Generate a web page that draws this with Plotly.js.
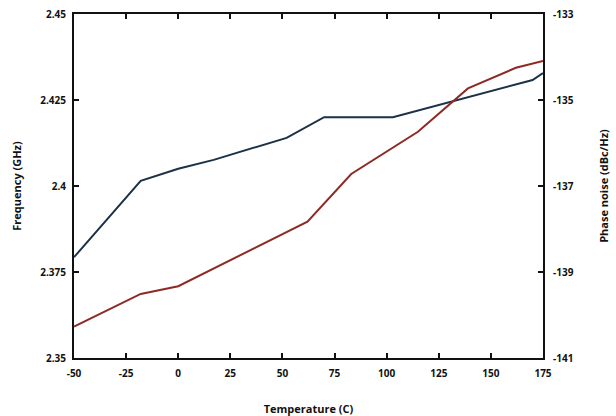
<!DOCTYPE html>
<html>
<head>
<meta charset="utf-8">
<script src="https://cdn.plot.ly/plotly-3.0.1.min.js"></script>
<style>
  html, body { margin: 0; padding: 0; background: #ffffff; }
  #chart { width: 616px; height: 416px; }
</style>
</head>
<body>
<div id="chart"></div>
<script>
// Oscillator frequency vs temperature (left axis)
const freqTemp = [-50, -18, 0, 17, 52, 70, 103, 170, 175];
const freqGHz = [2.3793, 2.4015, 2.405, 2.4076, 2.414, 2.42, 2.42, 2.4308, 2.4328];

// Phase noise vs temperature (right axis)
const noiseTemp = [-50, -18, 0, 62, 83, 115, 139, 162, 175];
const noiseDbc = [-140.27, -139.51, -139.33, -137.83, -136.72, -135.74, -134.73, -134.25, -134.09];

// Axis ticks
const xTicks = [-50, -25, 0, 25, 50, 75, 100, 125, 150, 175];
const freqTicks = [2.35, 2.375, 2.4, 2.425, 2.45];
const freqTickText = ['2.35', '2.375', '2.4', '2.425', '2.45'];
const noiseTicks = [-141, -139, -137, -135, -133];
const noiseTickText = ['-141', '-139', '-137', '-135', '-133'];

const tickFont = { family: 'Open Sans, sans-serif', size: 10, color: '#111111', weight: 'bold' };
const titleFont = { family: 'Open Sans, sans-serif', size: 11, color: '#111111', weight: 'bold' };

const traces = [
  {
    x: freqTemp, y: freqGHz, yaxis: 'y', type: 'scatter', mode: 'lines',
    line: { color: '#1b3147', width: 2 }, hoverinfo: 'skip'
  },
  {
    x: noiseTemp, y: noiseDbc, yaxis: 'y2', type: 'scatter', mode: 'lines',
    line: { color: '#8e2a25', width: 2 }, hoverinfo: 'skip'
  }
];

const layout = {
  width: 616, height: 416,
  margin: { l: 74, r: 73, t: 14, b: 58 },
  paper_bgcolor: '#ffffff', plot_bgcolor: '#ffffff',
  showlegend: false,
  xaxis: {
    range: [-50, 175], tickvals: xTicks, ticktext: xTicks.map(String),
    showgrid: false, zeroline: false,
    showline: true, linecolor: '#111111', linewidth: 2, mirror: 'ticks',
    ticks: 'inside', ticklen: 5, tickwidth: 2, tickcolor: '#111111',
    tickfont: tickFont, ticklabelstandoff: 5,
    title: { text: 'Temperature (C)', font: titleFont, standoff: 26 }
  },
  yaxis: {
    range: [2.35, 2.45], tickvals: freqTicks, ticktext: freqTickText,
    showgrid: false, zeroline: false,
    showline: true, linecolor: '#111111', linewidth: 2,
    ticks: 'inside', ticklen: 5, tickwidth: 2, tickcolor: '#111111',
    tickfont: tickFont, ticklabelstandoff: 4,
    title: { text: 'Frequency (GHz)', font: titleFont, standoff: 16 }
  },
  yaxis2: {
    range: [-141, -133], tickvals: noiseTicks, ticktext: noiseTickText,
    overlaying: 'y', side: 'right',
    showgrid: false, zeroline: false,
    showline: true, linecolor: '#111111', linewidth: 2,
    ticks: 'inside', ticklen: 5, tickwidth: 2, tickcolor: '#111111',
    tickfont: tickFont, ticklabelstandoff: 6,
    title: { text: 'Phase noise (dBc/Hz)', font: titleFont, standoff: 28 }
  }
};

Plotly.newPlot('chart', traces, layout, { staticPlot: true, displayModeBar: false });
</script>
</body>
</html>
